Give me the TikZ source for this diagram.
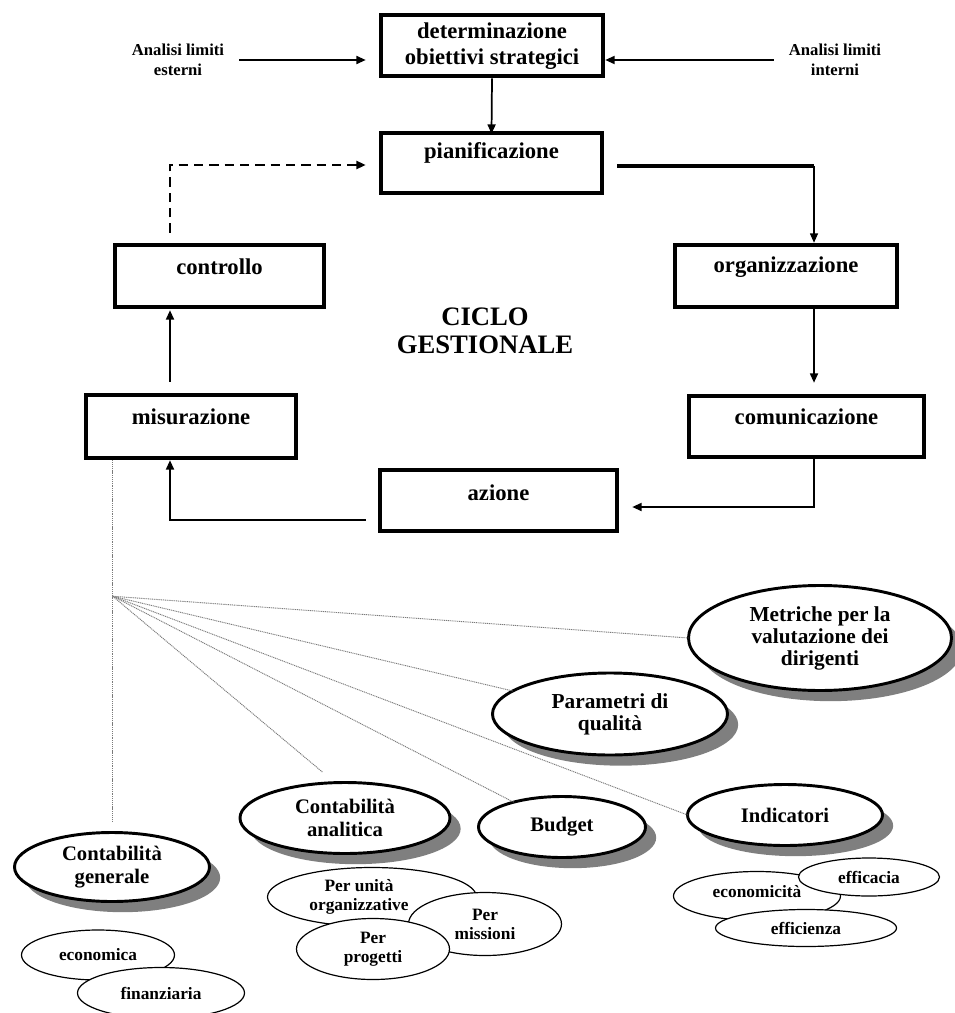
\documentclass[tikz,border=0pt]{standalone}
\usepackage{fontspec}
\setmainfont{Liberation Serif}
\usetikzlibrary{arrows.meta,shapes.geometric,shadows,calc}
\newlength{\pxlen}\setlength{\pxlen}{0.75pt}
\definecolor{shadowgray}{HTML}{7F7F7F}
\definecolor{dotgray}{HTML}{7A7A7A}

\begin{document}
\begin{tikzpicture}[x=0.75pt,y=-0.75pt,
  box/.style={draw, line width=3.4pt, inner sep=0pt, fill=white},
  boxtext/.style={font=\bfseries\fontsize{17}{19.5}\selectfont, align=center, inner sep=0pt},
  sidetext/.style={font=\bfseries\fontsize{12.5}{15}\selectfont, align=center, inner sep=0pt},
  cycletitle/.style={font=\bfseries\fontsize{20}{21}\selectfont, align=center, inner sep=0pt},
  flow/.style={line width=1.3pt, -{Triangle[length=7pt,width=6pt]}},
  thinflow/.style={line width=0.9pt, -{Triangle[length=7pt,width=6pt]}},
  backflow/.style={line width=1.6pt, dash pattern=on 7pt off 4.5pt, -{Triangle[length=7pt,width=6pt]}},
  bigell/.style={ellipse, draw, line width=2.2pt, fill=white, inner sep=0pt, outer sep=0pt, align=center,
    drop shadow={shadow xshift=8pt, shadow yshift=-8pt, fill=shadowgray, opacity=1}},
  upperfont/.style={font=\bfseries\fontsize{16}{16.5}\selectfont},
  lowerfont/.style={font=\bfseries\fontsize{15.5}{17.5}\selectfont},
  smallell/.style={ellipse, draw, line width=0.9pt, fill=white, inner sep=0pt, outer sep=0pt, align=center,
    font=\bfseries\fontsize{13}{14.2}\selectfont},
  fanline/.style={dotgray, line width=0.7pt, dash pattern=on 0.8pt off 0.6pt}
]
\useasboundingbox (0,0) rectangle (955,1013);

% ---------- management cycle boxes ----------
\node[box, minimum width=222*\pxlen, minimum height=61*\pxlen] (det) at (492,45.5) {};
\node[boxtext] (dett) at (492,46) {determinazione\\obiettivi strategici};

\node[box, minimum width=221*\pxlen, minimum height=60*\pxlen] (pian) at (491.5,163) {};
\node[boxtext] (piant) at (491.5,153) {pianificazione};

\node[box, minimum width=209*\pxlen, minimum height=62*\pxlen] (con) at (219.5,276) {};
\node[boxtext] (cont) at (219.5,267) {controllo};

\node[box, minimum width=222*\pxlen, minimum height=62*\pxlen] (org) at (786,276) {};
\node[boxtext] (orgt) at (786,267) {organizzazione};

\node[box, minimum width=210*\pxlen, minimum height=63*\pxlen] (mis) at (191,426.5) {};
\node[boxtext] (mist) at (191,417) {misurazione};

\node[box, minimum width=235*\pxlen, minimum height=61*\pxlen] (com) at (806.5,426.5) {};
\node[boxtext] (comt) at (806.5,417) {comunicazione};

\node[box, minimum width=237*\pxlen, minimum height=61*\pxlen] (azi) at (498.5,500.5) {};
\node[boxtext] (azit) at (498.5,493) {azione};

\node[cycletitle] (ciclo) at (485,331) {CICLO\\GESTIONALE};

% ---------- external / internal analysis ----------
\node[sidetext] (ale) at (178,60) {Analisi limiti\\esterni};
\node[sidetext] (ali) at (835,60) {Analisi limiti\\interni};

\draw[flow] ($(ale.east)+(15,0)$) -- ($(ale.east -| det.west)+(-13,0)$);
\draw[flow] ($(ali.west)+(-15,0)$) -- (ali.west -| det.east);

% ---------- cycle connectors ----------
\coordinate (rcol) at ($(org.north)+(28,0)$);
\coordinate (pe) at ($(pian.east)+(13,3)$);
\coordinate (pc) at (pe -| rcol);

\draw[flow] (det.south) -- ($(pian.north)+(0,3)$);
\draw[line width=3pt] (pe) -- (pc);
\draw[thinflow] (pc) -- (pc |- org.north);
\draw[flow] (org.south -| rcol) -- ($(com.north -| rcol)+(0,-11)$);
\draw[flow] (com.south -| rcol) |- ($(azi.east)+(13,6.5)$);
\draw[flow] ($(azi.west)+(-12,19.5)$) -| ($(mis.south)+(-21,0)$);
\draw[flow] ($(mis.north)+(-21,-11)$) -- ($(con.south)+(-49.5,1)$);
\draw[backflow] ($(con.north west)+(57,-10)$) |- ($(pian.west)+(-13,2)$);

% ---------- measurement tools ----------
\coordinate (dtop) at ($(mis.south west)+(29,0)$);
\coordinate (fan) at ($(dtop)+(0,136)$);
\coordinate (dbot) at ($(dtop)+(0,362)$);

\node[bigell, upperfont, minimum width=263*\pxlen, minimum height=105*\pxlen] (met) at (820,638)
  {Metriche per la\\valutazione dei\\dirigenti};
\node[bigell, upperfont, minimum width=235*\pxlen, minimum height=82*\pxlen] (par) at (610,714)
  {Parametri di\\qualità};

\node[bigell, lowerfont, minimum width=195*\pxlen, minimum height=69*\pxlen] (cag) at (112,867)
  {Contabilità\\generale};
\node[bigell, lowerfont, minimum width=210*\pxlen, minimum height=71*\pxlen] (caa) at (345,818)
  {Contabilità\\analitica};
\node[bigell, lowerfont, minimum width=167*\pxlen, minimum height=61*\pxlen] (bud) at (562,827)
  {Budget};
\node[bigell, lowerfont, minimum width=195*\pxlen, minimum height=61*\pxlen] (ind) at (785,815)
  {Indicatori};

\draw[fanline] (dtop) -- (dbot);
\draw[fanline] (fan) -- (met.west);
\draw[fanline] (fan) -- (par);
\draw[fanline] (fan) -- (ind.west);
\draw[fanline] (fan) -- (bud);
\draw[fanline] (fan) -- ($(caa.north)+(-22,-10)$);

% general accounting
\node[smallell, minimum width=153*\pxlen, minimum height=50*\pxlen] (eco) at (98,955) {economica};
\node[smallell, minimum width=167*\pxlen, minimum height=51*\pxlen] (fin) at (161,993) {finanziaria};

% analytical accounting
\node[smallell, minimum width=209*\pxlen, minimum height=59*\pxlen] (pu) at (372,897) {};
\node[smallell, draw=none, fill=none] (put) at (359,897) {Per unità\\organizzative};
\node[smallell, minimum width=153*\pxlen, minimum height=63*\pxlen] (pm) at (485,924) {Per\\missioni};
\node[smallell, minimum width=153*\pxlen, minimum height=61*\pxlen] (pp) at (373,949) {Per\\progetti};

% indicators
\node[smallell, minimum width=167*\pxlen, minimum height=49*\pxlen] (ecn) at (757,896) {};
\node[smallell, draw=none, fill=none] (ecnt) at (757,892) {economicità};
\node[smallell, minimum width=141*\pxlen, minimum height=38*\pxlen] (eff) at (869,877) {efficacia};
\node[smallell, minimum width=181*\pxlen, minimum height=37*\pxlen] (efz) at (806,928) {efficienza};
\end{tikzpicture}
\end{document}
